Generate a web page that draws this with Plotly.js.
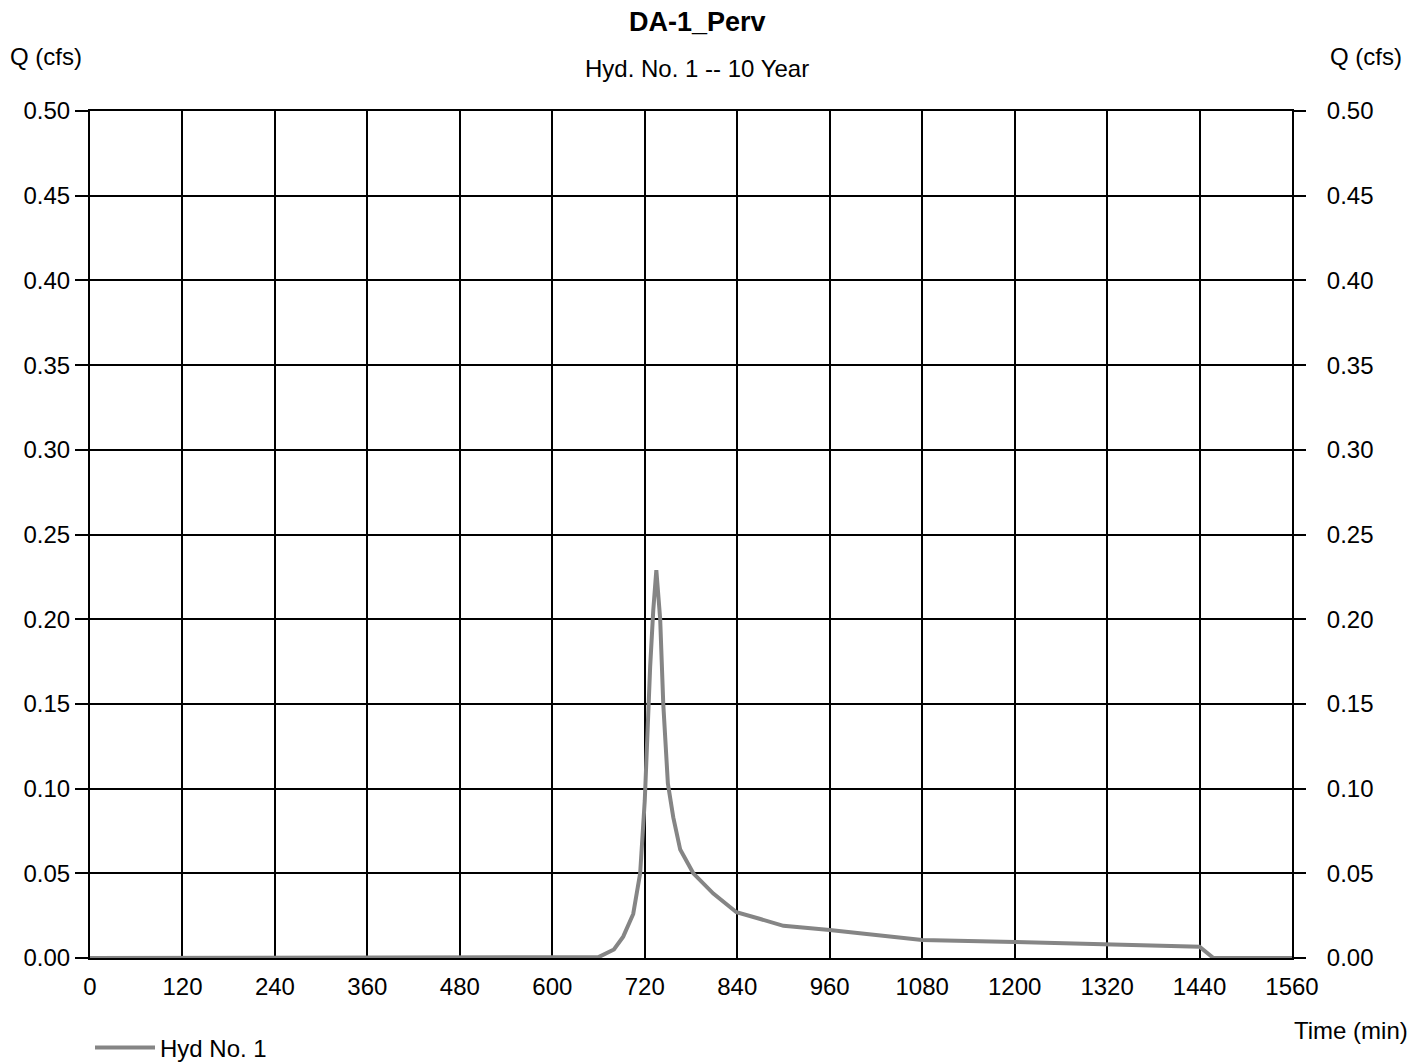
<!DOCTYPE html>
<html>
<head>
<meta charset="utf-8">
<script src="https://cdn.plot.ly/plotly-3.0.1.min.js"></script>
<style>html,body{margin:0;padding:0;background:#fff;}#chart{width:1424px;height:1062px;}</style>
</head>
<body>
<div id="chart"></div>
<script>
const timeMin = [0, 600, 660, 680, 692, 705, 714, 720, 724, 727, 731, 735, 740, 744, 750, 757, 766, 783, 809, 839, 870, 900, 960, 1000, 1080, 1200, 1320, 1440, 1458, 1560];
const flowCfs = [0, 0, 0.0005, 0.005, 0.0126, 0.026, 0.050, 0.093, 0.148, 0.172, 0.205, 0.229, 0.200, 0.150, 0.103, 0.083, 0.064, 0.050, 0.038, 0.027, 0.023, 0.019, 0.0165, 0.0146, 0.0106, 0.0095, 0.0080, 0.0067, 0, 0];
const seriesName = 'Hyd No. 1';
const chartTitle = 'DA-1_Perv';
const chartSubtitle = 'Hyd. No. 1 -- 10 Year';
const yLabel = 'Q (cfs)';
const xLabel = 'Time (min)';

const FONT = 'Liberation Sans, Arial, sans-serif';
const traces = [
  {x: timeMin, y: flowCfs, type: 'scatter', mode: 'lines', name: seriesName,
   line: {color: '#858585', width: 4}, xaxis: 'x', yaxis: 'y'},
  {x: timeMin, y: flowCfs, type: 'scatter', mode: 'lines', showlegend: false,
   line: {color: 'rgba(0,0,0,0)', width: 0}, xaxis: 'x', yaxis: 'y2', hoverinfo: 'skip'}
];
const layout = {
  width: 1424, height: 1062,
  margin: {l: 90, r: 132, t: 111, b: 104, autoexpand: false},
  paper_bgcolor: '#fff', plot_bgcolor: '#fff',
  font: {family: FONT, size: 24, color: '#000'},
  showlegend: true,
  legend: {x: 0.0, xanchor: 'left', y: -0.106, yanchor: 'middle', orientation: 'h', itemwidth: 60,
           font: {family: FONT, size: 24, color: '#000'}, bgcolor: 'rgba(0,0,0,0)'},
  xaxis: {range: [0, 1560], dtick: 120, tick0: 0, showgrid: true, gridcolor: '#000', gridwidth: 2,
          showline: true, mirror: true, linecolor: '#000', linewidth: 2, zeroline: false,
          ticks: '', tickfont: {family: FONT, size: 24, color: '#000'}, ticklabelstandoff: 6},
  yaxis: {range: [0, 0.5], dtick: 0.05, tick0: 0, tickformat: '.2f', showgrid: true, gridcolor: '#000', gridwidth: 2,
          showline: true, mirror: true, linecolor: '#000', linewidth: 2, zeroline: false,
          ticks: 'outside', ticklen: 13, tickwidth: 2, tickcolor: '#000',
          tickfont: {family: FONT, size: 24, color: '#000'}},
  yaxis2: {range: [0, 0.5], dtick: 0.05, tick0: 0, tickformat: '.2f', overlaying: 'y', side: 'right',
           showgrid: false, zeroline: false, ticks: 'outside', ticklen: 13, tickwidth: 2, tickcolor: '#000',
           tickfont: {family: FONT, size: 24, color: '#000'}, ticklabelstandoff: 16},
  annotations: [
    {text: '<b>' + chartTitle + '</b>', xref: 'paper', yref: 'paper', x: 0.5, y: 1, xanchor: 'center', yanchor: 'middle',
     xshift: 6, yshift: 89, showarrow: false, font: {family: FONT, size: 27, color: '#000'}},
    {text: chartSubtitle, xref: 'paper', yref: 'paper', x: 0.5, y: 1, xanchor: 'center', yanchor: 'middle',
     xshift: 6, yshift: 43, showarrow: false, font: {family: FONT, size: 24, color: '#000'}},
    {text: yLabel, xref: 'paper', yref: 'paper', x: 0, y: 1, xanchor: 'left', yanchor: 'middle',
     xshift: -82, yshift: 55, showarrow: false, font: {family: FONT, size: 24, color: '#000'}},
    {text: yLabel, xref: 'paper', yref: 'paper', x: 1, y: 1, xanchor: 'left', yanchor: 'middle',
     xshift: 36, yshift: 55, showarrow: false, font: {family: FONT, size: 24, color: '#000'}},
    {text: xLabel, xref: 'paper', yref: 'paper', x: 1, y: 0, xanchor: 'left', yanchor: 'middle',
     xshift: 0, yshift: -72, showarrow: false, font: {family: FONT, size: 24, color: '#000'}}
  ]
};
Plotly.newPlot('chart', traces, layout, {displayModeBar: false, staticPlot: true});
</script>
</body>
</html>
